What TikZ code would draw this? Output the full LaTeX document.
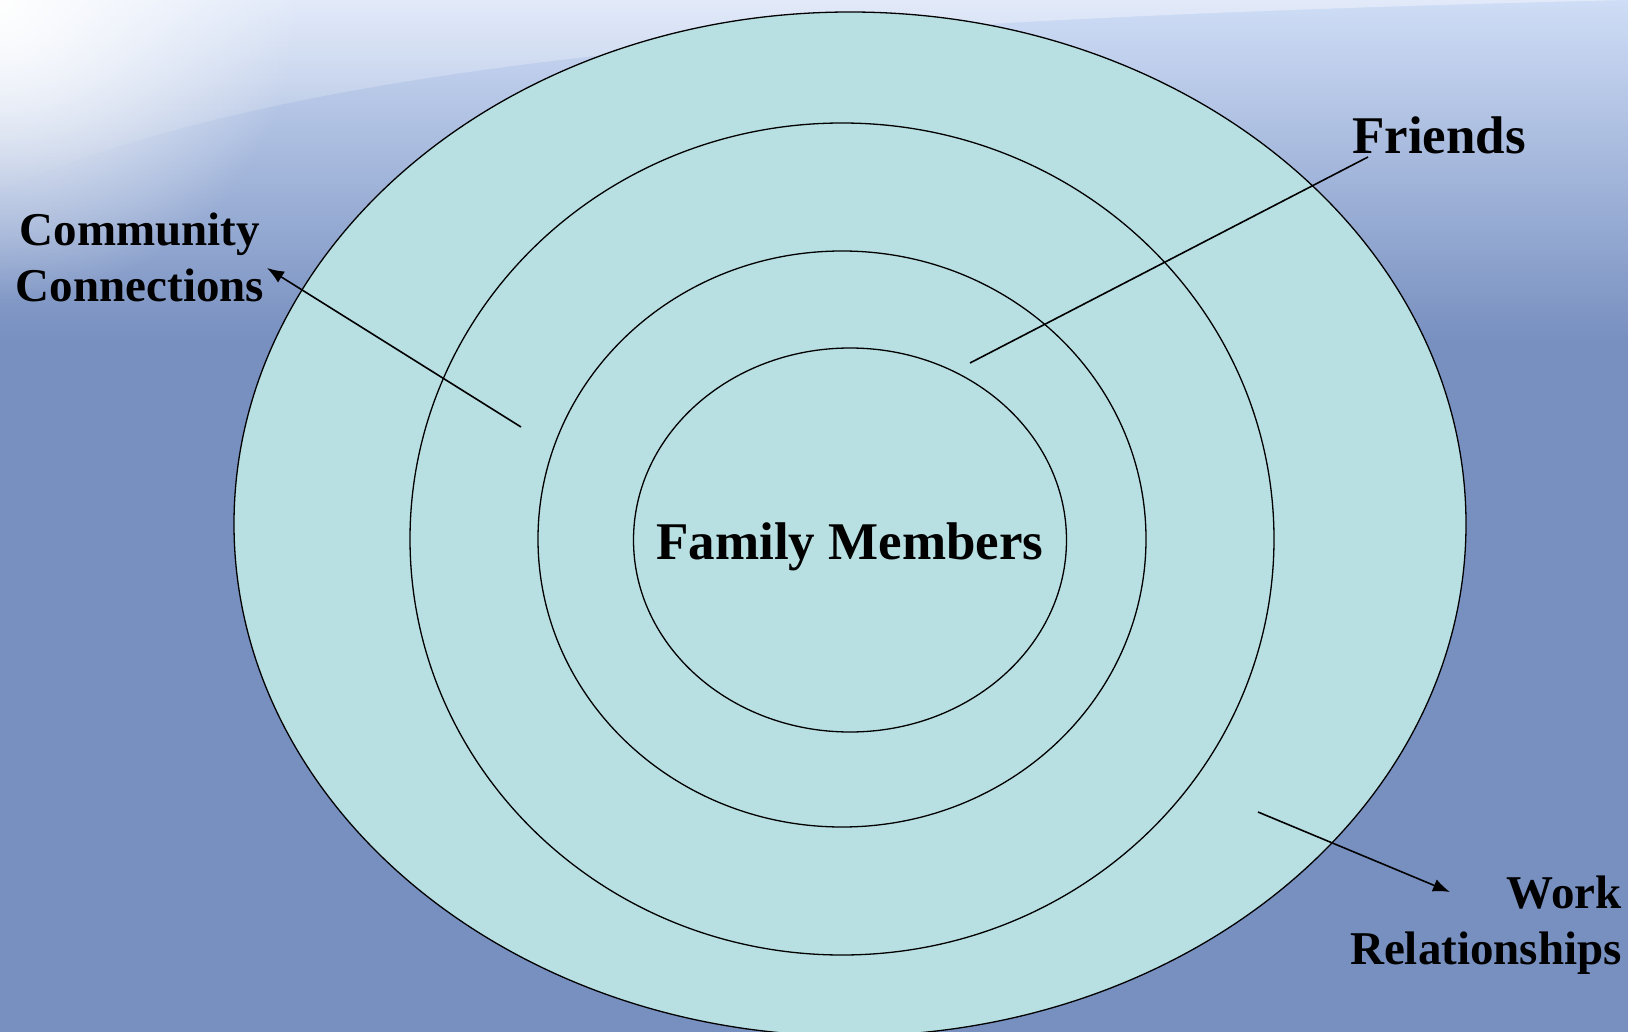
\documentclass[tikz,border=0pt]{standalone}
\usepackage{fontspec}
\setmainfont{Liberation Serif}
\usepackage{xcolor}
\usetikzlibrary{arrows.meta,positioning,shapes.geometric,fadings}

\definecolor{bgdeep}{HTML}{7890C0}
\definecolor{bglight}{HTML}{CFDDF6}
\definecolor{ringfill}{HTML}{B8DFE2}
\tikzfading[name=glow,inner color=transparent!0,outer color=transparent!100]
\tikzfading[name=sweep,top color=transparent!20,bottom color=transparent!100]

\begin{document}
\begin{tikzpicture}[x=1pt,y=-1pt,
  ring/.style={draw,ellipse,fill=ringfill,line width=1.3pt,inner sep=0pt},
  lbl/.style={font=\bfseries\fontsize{47}{56}\selectfont,align=center,inner sep=0pt},
  arr/.style={-{Latex[length=17pt,width=13pt]},line width=1.6pt},
  lead/.style={line width=1.6pt}
]
\useasboundingbox (0,0) rectangle (1628,1032);
\clip (0,0) rectangle (1628,1032);
% background
\fill[bgdeep] (0,0) rectangle (1628,1032);
\shade[top color=bglight,bottom color=bgdeep] (0,0) rectangle (1628,340);
\fill[white,opacity=.5,path fading=sweep] (0,190) .. controls (300,60) and (800,20) .. (1628,0) -- (0,0) -- cycle;
\fill[white,path fading=glow] (0,0) circle [radius=300];

% rings
\node[ring,minimum width=1232pt,minimum height=1024pt] (community) at (850,524) {};
\node[ring,minimum width=864pt,minimum height=832pt] (friends) at (842,539) {};
\node[ring,minimum width=608pt,minimum height=576pt] (work) at (842,539) {};
\node[ring,minimum width=433pt,minimum height=384pt] (family) at (850,540) {};
\node[font=\bfseries\fontsize{53}{60}\selectfont] (famlbl) at (850,547) {Family Members};

% labels
\node[lbl] (commlbl) at (140,257) {Community\\Connections};
\node[lbl,font=\bfseries\fontsize{53}{60}\selectfont] (friendlbl) at (1439,135) {Friends};
\node[lbl,align=right,anchor=east] (worklbl) at (1622,925) {Work\\Relationships};

% connectors
\coordinate (commfrom) at (521,427);
\coordinate (commtip) at (267,268);
\coordinate (friendfrom) at (970,363);
\coordinate (friendto) at (1368,157);
\coordinate (workfrom) at (1258,812);
\coordinate (worktip) at (1450,892);
\draw[arr] (commfrom) -- (commtip);
\draw[lead] (friendfrom) -- (friendto);
\draw[arr] (workfrom) -- (worktip);
\end{tikzpicture}
\end{document}
